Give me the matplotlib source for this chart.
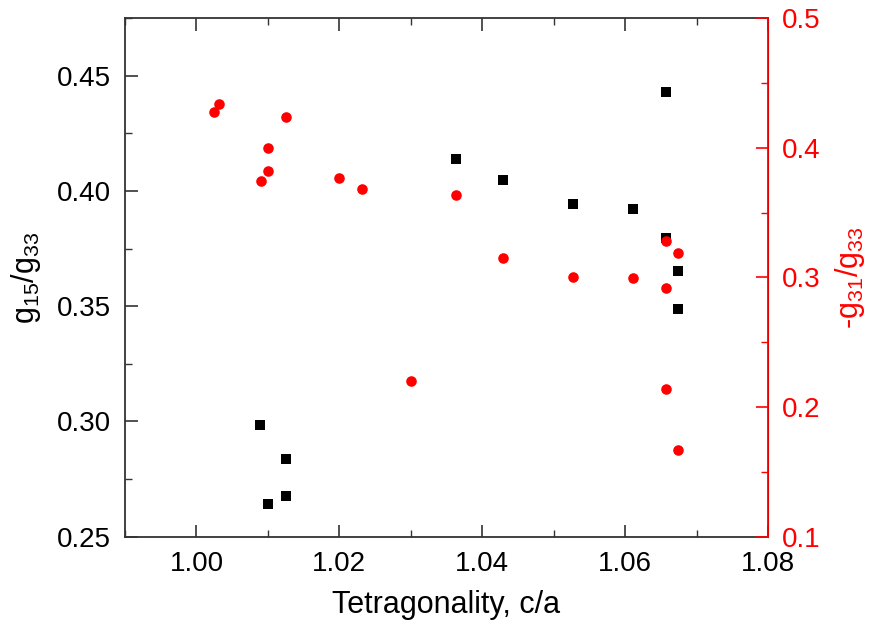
#!/usr/bin/env python3
"""Dual-axis scatter: g15/g33 and -g31/g33 against tetragonality."""

import matplotlib

matplotlib.use("Agg")
import matplotlib.pyplot as plt
from matplotlib.ticker import FormatStrFormatter, MultipleLocator

plt.rcParams["font.family"] = ["Liberation Sans", "DejaVu Sans"]
plt.rcParams["mathtext.fontset"] = "custom"
plt.rcParams["mathtext.rm"] = "Liberation Sans"
plt.rcParams["mathtext.it"] = "Liberation Sans"

# g15/g33 (left axis, black squares)
g15_ca = [1.0089, 1.0100, 1.0125, 1.0125, 1.0363, 1.0429, 1.0527, 1.0611,
          1.0657, 1.0657, 1.0674, 1.0674]
g15_ratio = [0.2983, 0.2643, 0.2837, 0.2677, 0.4138, 0.4047, 0.3942, 0.3920,
             0.4429, 0.3797, 0.3651, 0.3486]

# -g31/g33 (right axis, red circles)
g31_ca = [1.0024, 1.0032, 1.0090, 1.0100, 1.0100, 1.0125, 1.0200, 1.0232,
          1.0300, 1.0363, 1.0429, 1.0527, 1.0611, 1.0657, 1.0657, 1.0657,
          1.0674, 1.0674]
g31_ratio = [0.4275, 0.4334, 0.3742, 0.3999, 0.3817, 0.4236, 0.3766, 0.3681,
             0.2200, 0.3635, 0.3149, 0.3002, 0.2995, 0.3282, 0.2917, 0.2136,
             0.3190, 0.1668]

RED = "#ff0000"
SPINE = "#333333"
TICK_SIZE = 20
LABEL_SIZE = 22

fig = plt.figure(figsize=(8.71, 6.33), dpi=100)
ax = fig.add_axes([0.1435, 0.1521, 0.7383, 0.8195])
ax2 = ax.twinx()

ax.scatter(g15_ca, g15_ratio, marker="s", s=46, color="black", linewidths=0, zorder=3)
ax2.scatter(g31_ca, g31_ratio, marker="o", s=58, color=RED, linewidths=0, zorder=3)

ax.set_xlim(0.99, 1.08)
ax.set_ylim(0.25, 0.475)
ax2.set_ylim(0.1, 0.5)

ax.xaxis.set_major_locator(MultipleLocator(0.02))
ax.xaxis.set_minor_locator(MultipleLocator(0.01))
ax.yaxis.set_major_locator(MultipleLocator(0.05))
ax.yaxis.set_minor_locator(MultipleLocator(0.025))
ax2.yaxis.set_major_locator(MultipleLocator(0.1))
ax2.yaxis.set_minor_locator(MultipleLocator(0.05))
ax.xaxis.set_major_formatter(FormatStrFormatter("%.2f"))
ax.yaxis.set_major_formatter(FormatStrFormatter("%.2f"))
ax2.yaxis.set_major_formatter(FormatStrFormatter("%.1f"))

ax.tick_params(axis="x", which="both", direction="in", top=True,
               labelsize=TICK_SIZE, color=SPINE, pad=10)
ax.tick_params(axis="y", which="both", direction="in", right=False,
               labelsize=TICK_SIZE, color=SPINE, pad=10)
ax.tick_params(which="major", length=9, width=1.2)
ax.tick_params(which="minor", length=5, width=1.0)
ax2.tick_params(axis="y", which="both", direction="in", colors=RED,
                labelsize=TICK_SIZE, pad=10)
ax2.tick_params(which="major", length=9, width=1.2)
ax2.tick_params(which="minor", length=5, width=1.0)

for side in ["left", "bottom", "top"]:
    ax.spines[side].set_color(SPINE)
    ax.spines[side].set_linewidth(1.3)
ax2.spines["right"].set_color(RED)
ax2.spines["right"].set_linewidth(1.3)
for side in ["left", "top", "bottom"]:
    ax2.spines[side].set_visible(False)

ax.set_xlabel("Tetragonality, c/a", fontsize=LABEL_SIZE, labelpad=10)
ax.set_ylabel("g$_{15}$/g$_{33}$", fontsize=LABEL_SIZE, labelpad=10)
ax2.set_ylabel("-g$_{31}$/g$_{33}$", fontsize=LABEL_SIZE, color=RED, labelpad=9)

fig.savefig("out.png", dpi=100)
